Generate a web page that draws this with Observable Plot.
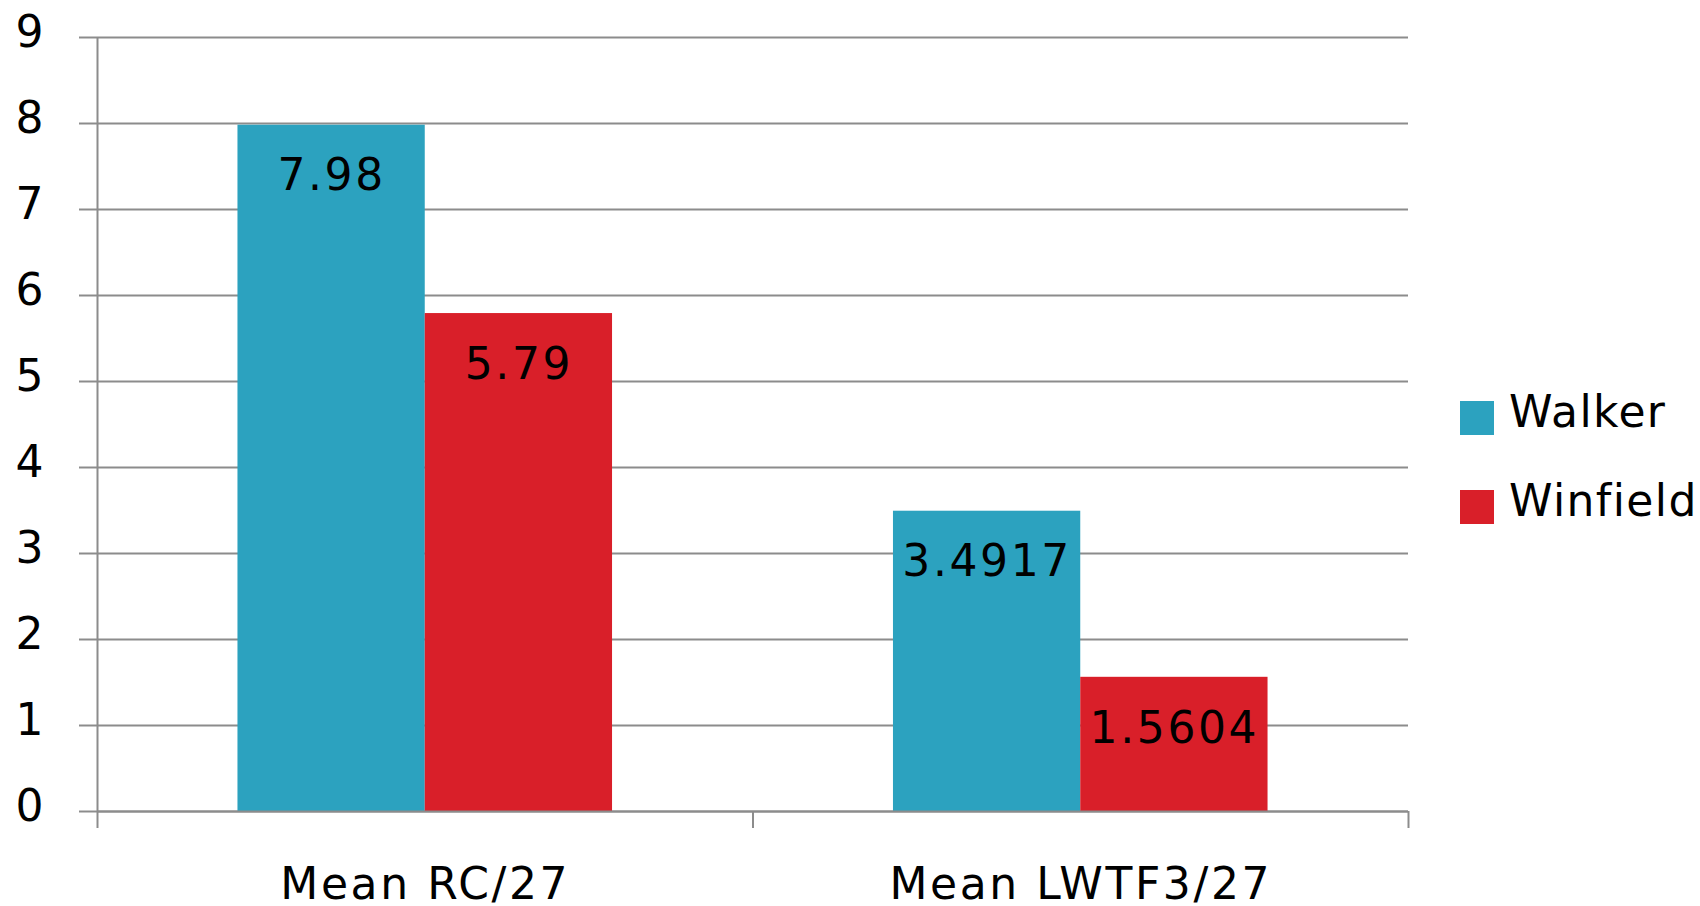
<!DOCTYPE html>
<html>
<head>
<meta charset="utf-8">
<script src="https://cdn.jsdelivr.net/npm/d3@7"></script>
<script src="https://cdn.jsdelivr.net/npm/@observablehq/plot@0.6"></script>
<style>
  html, body { margin: 0; padding: 0; background: #fff; }
  #wrap { position: relative; width: 1700px; height: 906px; font-family: "DejaVu Sans", sans-serif; }
  #wrap svg text { letter-spacing: 2.6px; }
  #wrap svg g[aria-label="y-axis tick label"] text { letter-spacing: 0; }
  .lg-sw { position: absolute; width: 34px; height: 34px; }
  .lg-tx { position: absolute; font-size: 44px; line-height: 44px; color: #000; white-space: nowrap; letter-spacing: 1.4px; }
</style>
</head>
<body>
<div id="wrap"></div>
<script>
// ---- data ----
const categories = ["Mean RC/27", "Mean LWTF3/27"];
const series = ["Walker", "Winfield"];
const walkerValues = [7.98, 3.4917];
const winfieldValues = [5.79, 1.5604];
const valueLabels = [["7.98", "3.4917"], ["5.79", "1.5604"]];
const yTicks = [0, 1, 2, 3, 4, 5, 6, 7, 8, 9];
const colors = ["#2ca2bf", "#d91f29"];

// table built from the arrays
const seriesValues = [walkerValues, winfieldValues];
const rows = [];
categories.forEach((c, i) => {
  series.forEach((s, j) => {
    rows.push({category: c, ci: i, series: s, sj: j, value: seriesValues[j][i], label: valueLabels[j][i]});
  });
});

// layout: each category band holds the bars with 0.75 step padding each side
const step = 1 / (series.length + 1.5);
const barX1 = d => d.ci + 0.5 + (d.sj - series.length / 2) * step;
const barX2 = d => barX1(d) + step;
const barXc = d => barX1(d) + step / 2;

const grey = "#8c8c8c";

const chart = Plot.plot({
  width: 1700,
  height: 906,
  marginTop: 37,
  marginBottom: 95,
  marginLeft: 97,
  marginRight: 292,
  style: {fontFamily: "DejaVu Sans, sans-serif", fontSize: "44px", color: "#000", background: "#fff", overflow: "visible"},
  x: {type: "linear", domain: [0, categories.length]},
  y: {domain: [0, 9]},
  color: {domain: series, range: colors},
  marks: [
    Plot.gridY(yTicks, {stroke: grey, strokeOpacity: 1, strokeWidth: 2}),
    Plot.axisY({ticks: yTicks, tickSize: 18, tickFormat: () => "", stroke: grey, strokeOpacity: 1, strokeWidth: 2, label: null}),
    Plot.axisY({ticks: yTicks, tickSize: 0, tickPadding: 54, dy: -5, fill: "#000", label: null}),
    Plot.rectY(rows, {x1: barX1, x2: barX2, y1: 0, y2: "value", fill: d => d.series}),
    Plot.ruleY([0], {stroke: grey, strokeWidth: 2}),
    Plot.ruleX([0], {y1: 9, y2: 0, stroke: grey, strokeWidth: 2}),
    Plot.axisX({ticks: d3.range(categories.length + 1), tickSize: 17, tickFormat: () => "", stroke: grey, strokeOpacity: 1, strokeWidth: 2, label: null}),
    Plot.axisX({ticks: categories.map((c, i) => i + 0.5), tickSize: 0, tickPadding: 56, tickFormat: v => categories[Math.floor(v)], fill: "#000", label: null}),
    Plot.text(rows, {x: barXc, y: "value", text: "label", lineAnchor: "top", dy: 34, fill: "#000", fontSize: 44})
  ]
});

const wrap = document.getElementById("wrap");
wrap.appendChild(chart);

// legend
const legendTop = [401, 490];
series.forEach((s, j) => {
  const sw = document.createElement("div");
  sw.className = "lg-sw";
  sw.style.left = "1460px";
  sw.style.top = legendTop[j] + "px";
  sw.style.background = colors[j];
  wrap.appendChild(sw);
  const tx = document.createElement("div");
  tx.className = "lg-tx";
  tx.style.left = "1509px";
  tx.style.top = (legendTop[j] - 11) + "px";
  tx.textContent = s;
  wrap.appendChild(tx);
});
chart.style.position = "absolute";
chart.style.left = "0";
chart.style.top = "0";
</script>
</body>
</html>
